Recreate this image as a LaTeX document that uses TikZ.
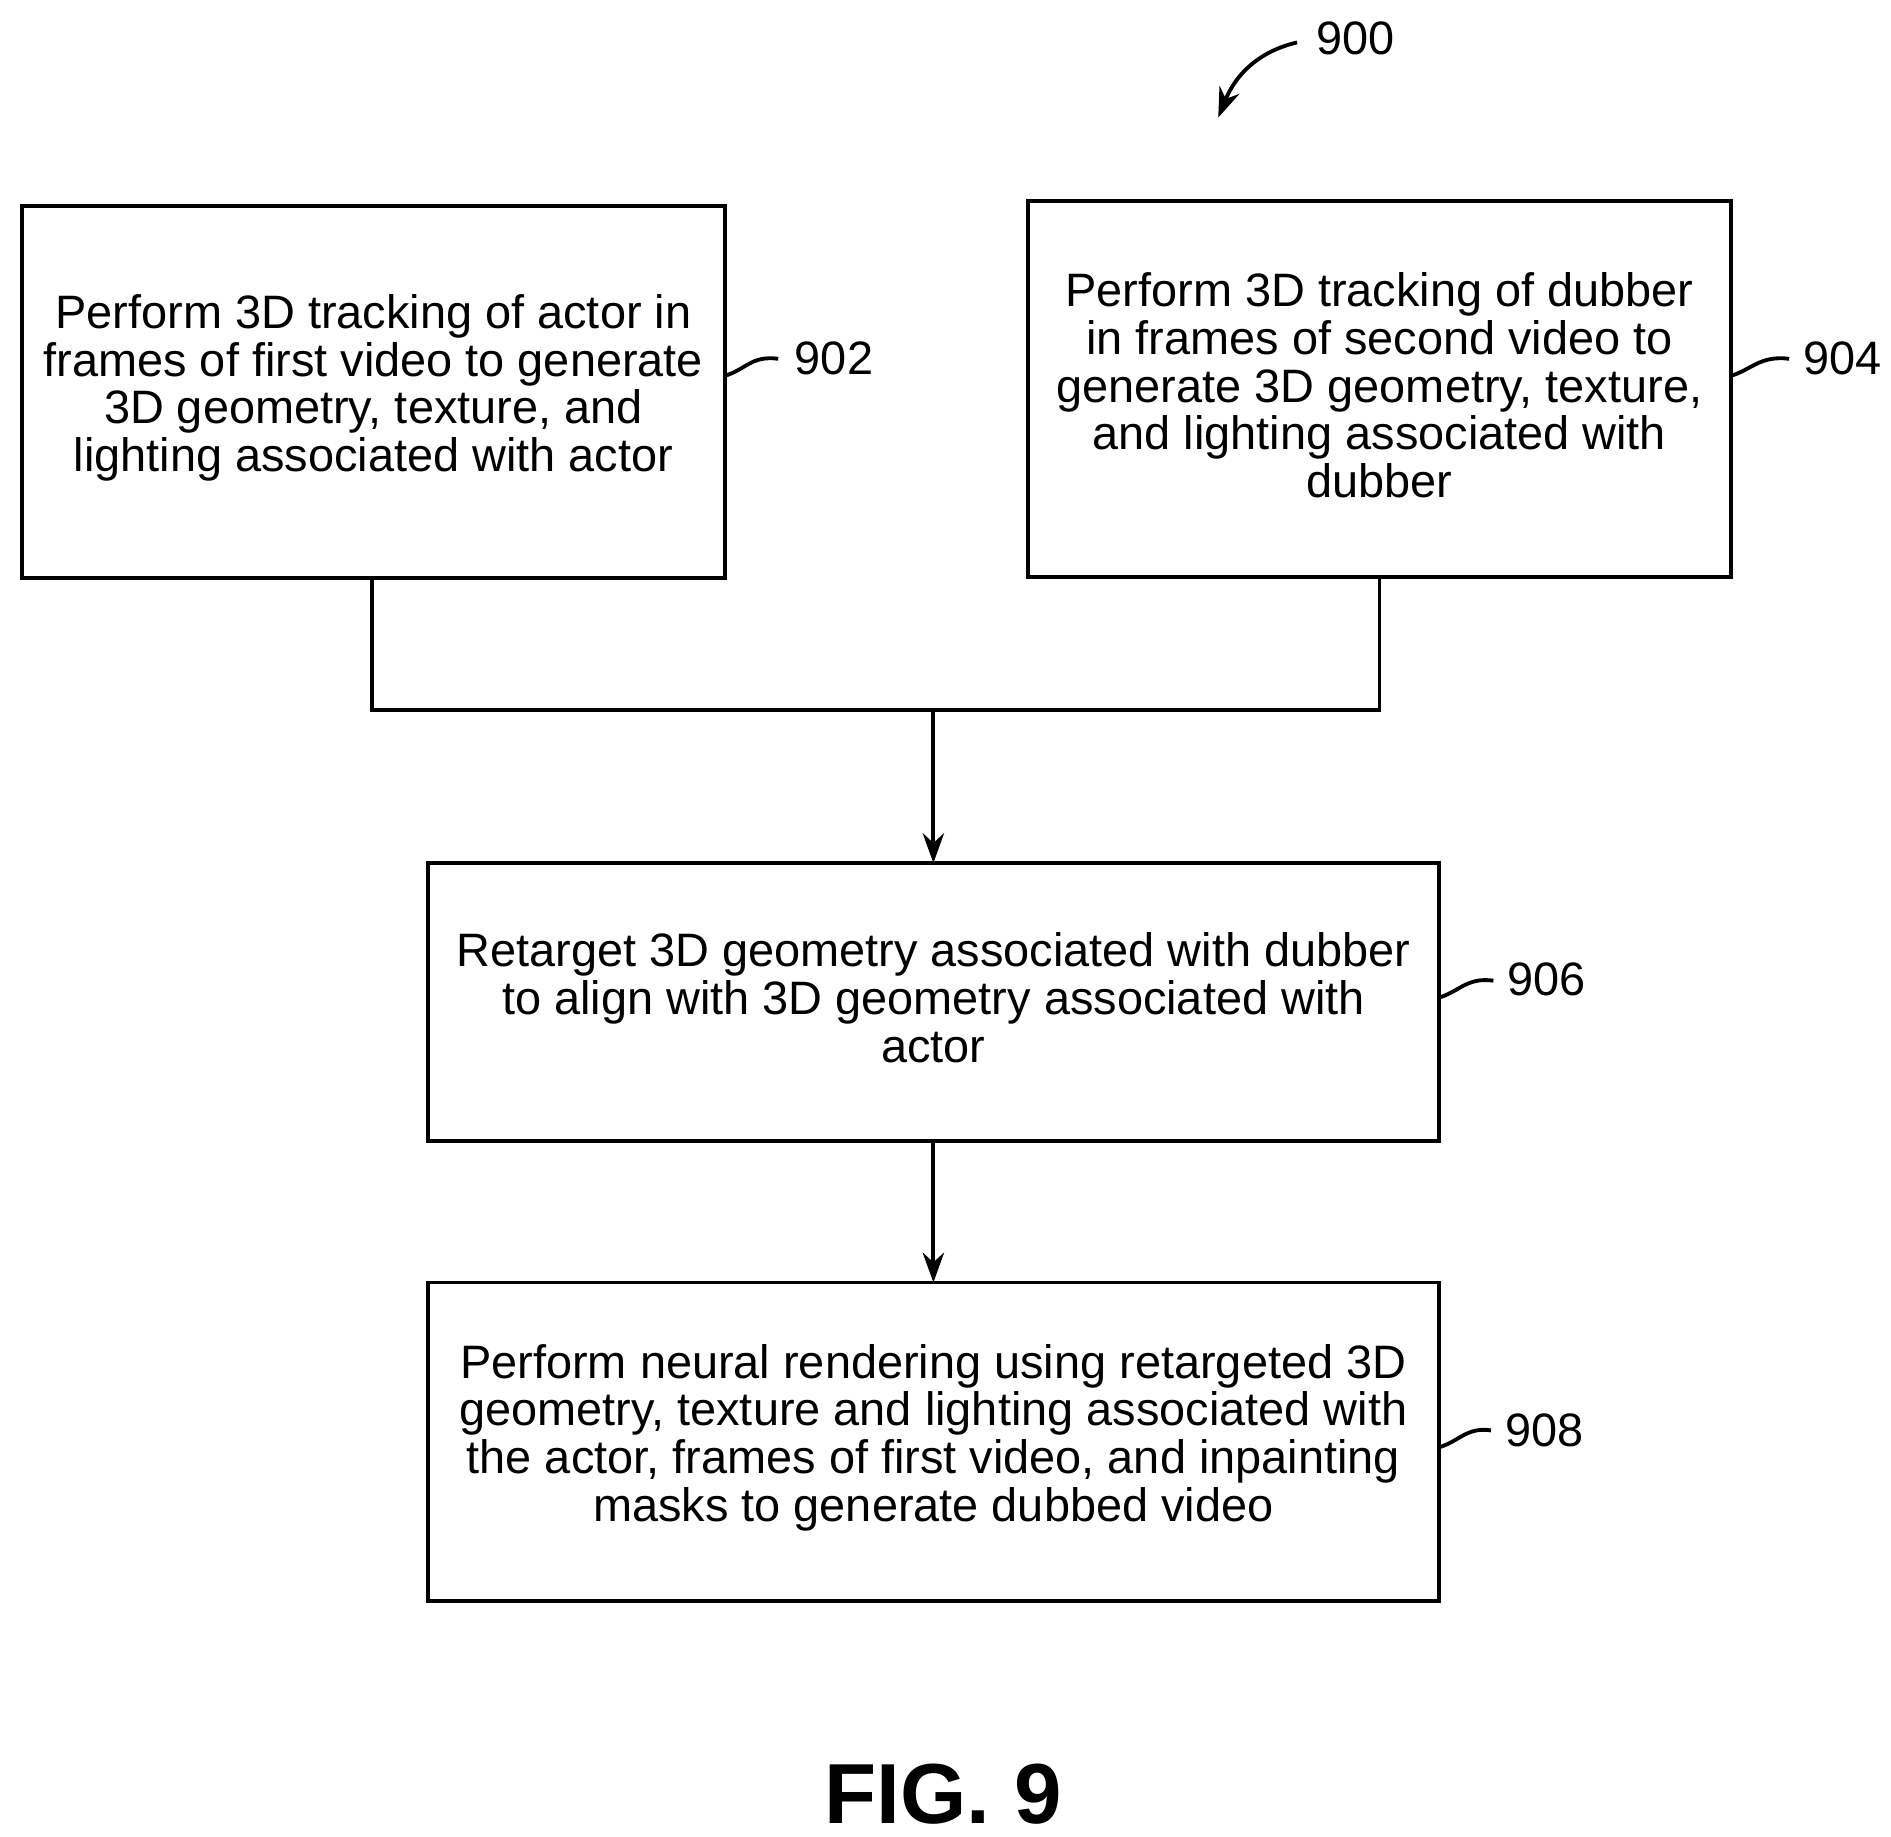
\documentclass[tikz,border=0pt]{standalone}
\usepackage{fontspec}
\setmainfont{Liberation Sans}
\usetikzlibrary{arrows.meta}
\begin{document}
\begin{tikzpicture}[x=0.01cm,y=-0.01cm,
  box/.style={draw,line width=0.9pt,inner sep=0pt},
  txt/.style={align=center,font=\fontsize{11pt}{11.2pt}\selectfont},
  lbl/.style={font=\fontsize{11pt}{11.2pt}\selectfont},
  arr/.style={-{Stealth[length=7pt,width=5pt]},line width=0.9pt},
  ln/.style={line width=0.9pt}]
\useasboundingbox (0,0) rectangle (1560,1515);
\draw[box] (18,170) rectangle (598,477); \coordinate (b902) at (307,477);
\node[txt] (t902) at (308,320) {Perform 3D tracking of actor in\\frames of first video to generate\\3D geometry, texture, and\\lighting associated with actor};
\draw[box] (848,166) rectangle (1428,476); \coordinate (b904) at (1138,476);
\node[txt] (t904) at (1138,318) {Perform 3D tracking of dubber\\in frames of second video to\\generate 3D geometry, texture,\\and lighting associated with\\dubber};
\draw[box] (353,712) rectangle (1187,941);
\coordinate (top906) at (770,712); \coordinate (bot906) at (770,941);
\node[txt] (t906) at (770,823) {Retarget 3D geometry associated with dubber\\to align with 3D geometry associated with\\actor};
\draw[box] (353,1058) rectangle (1187,1321); \coordinate (top908) at (770,1058);
\node[txt] (t908) at (770,1186) {Perform neural rendering using retargeted 3D\\geometry, texture and lighting associated with\\the actor, frames of first video, and inpainting\\masks to generate dubbed video};
\coordinate (j) at (770,586);
\draw[ln] (b902) -- (307,586) -- (1138,586) -- (b904);
\draw[arr] (j) -- (top906);
\draw[arr] (bot906) -- (top908);
\node[lbl] (l902) at (688,296) {902};
\draw[ln] (598,310) .. controls (615,305) and (620,293) .. (642,296);
\node[lbl] (l904) at (1520,296) {904};
\draw[ln] (1428,310) .. controls (1445,305) and (1452,293) .. (1476,296);
\node[lbl] (l906) at (1276,808) {906};
\draw[ln] (1187,823) .. controls (1204,818) and (1210,806) .. (1232,809);
\node[lbl] (l908) at (1274,1180) {908};
\draw[ln] (1187,1194) .. controls (1204,1189) and (1210,1177) .. (1230,1180);
\node[lbl] (l900) at (1118,32) {900};
\coordinate (a900) at (1005,97);
\draw[arr] (1070,35) .. controls (1040,42) and (1020,60) .. (a900);
\node[font=\bfseries\fontsize{20pt}{22pt}\selectfont] (fig) at (778,1480) {FIG. 9};
\end{tikzpicture}
\end{document}
